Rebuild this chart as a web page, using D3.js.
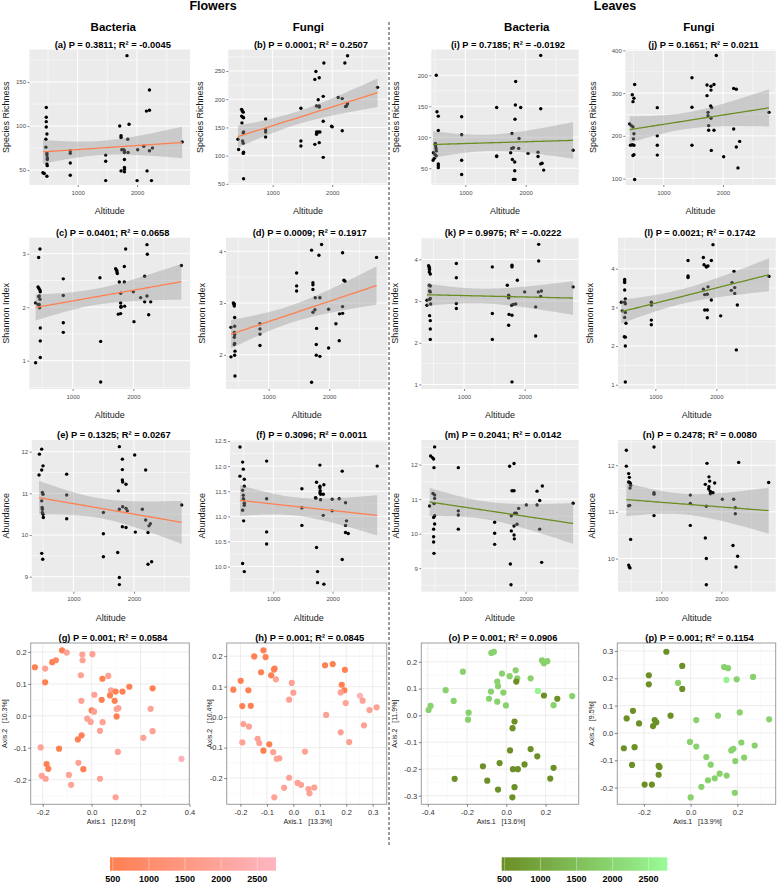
<!DOCTYPE html>
<html><head><meta charset="utf-8">
<script src="https://cdn.jsdelivr.net/npm/d3@7"></script>
<style>
body{margin:0;background:#fff;}
text{font-family:"Liberation Sans",Arial,Helvetica,sans-serif;}
</style></head><body>
<svg id="c" width="777" height="883"></svg>
<script>
// ---------------- DATA ----------------
// [altitude, value]
const richFB = [[416,47],[438,46],[472,121],[472,110],[472,105],[472,99],[483,91],[466,85],[466,76],[483,69],[483,67],[489,64],[489,62],[483,57],[489,55],[483,43],
[876,72],[876,69],[876,58],[876,44],[1472,67],[1472,60],[1472,38],
[1708,100],[1730,89],[1730,87],[1742,73],[1730,49],[1775,73],[1787,72],[1787,70],[1787,62],[1787,53],[1787,51],[1787,48],[1830,180],[1843,85],[1848,70],[1865,102],
[2000,38],[2010,73],[2112,77],[2157,117],[2168,49],[2208,118],[2208,141],[2208,72],[2258,75],[2242,38],[2758,82]];
const richFF = [[419,129],[430,111],[480,182],[491,179],[508,177],[480,170],[502,168],[513,167],[486,158],[513,142],[508,140],[497,126],[508,122],[513,106],[508,104],[513,59],
[883,165],[883,146],[883,142],[883,133],[1475,184],[1475,126],[1475,117],
[1726,249],[1709,235],[1782,238],[1737,188],[1765,199],[1782,188],[1782,186],[1737,142],[1765,142],[1793,142],[1737,138],[1709,120],[1782,123],[1849,205],[1849,161],[1860,264],[1849,97],
[1989,152],[2000,151],[2100,203],[2168,201],[2168,144],[2212,264],[2257,277],[2223,187],[2240,188],[2257,192],[2760,221]];
const shanFB = [[390,2.08],[390,0.96],[440,2.93],[462,3.09],[430,2.38],[445,2.35],[462,2.32],[467,2.29],[440,2.2],[450,2.21],[430,2.05],[450,2.05],[456,1.99],[462,2.15],[467,1.61],[467,1.37],[467,1.06],
[846,2.53],[846,2.22],[846,1.71],[846,1.53],[1450,2.55],[1462,1.36],[1462,0.6],
[1709,2.72],[1725,2.69],[1731,2.66],[1736,2.63],[1753,1.87],[1791,1.88],[1791,2.26],[1791,2.08],[1797,2.02],[1797,2.0],[1769,2.47],[1852,2.47],[1852,2.76],[1874,3.09],[1857,2.02],
[2000,2.29],[2011,1.73],[2121,2.18],[2187,2.58],[2187,2.1],[2225,3.17],[2231,2.99],[2225,2.21],[2253,1.86],[2286,2.1],[2791,2.78]];
const shanFF = [[379,2.53],[379,1.96],[418,3.0],[434,2.98],[434,2.94],[440,2.72],[440,2.55],[434,2.43],[440,2.39],[434,2.34],[440,2.22],[434,2.2],[445,2.07],[440,1.99],[445,1.59],[429,2.97],
[857,2.6],[857,2.5],[857,2.4],[857,2.18],[1462,3.58],[1462,3.33],[1462,3.23],
[1709,4.02],[1709,1.47],[1731,3.39],[1731,3.35],[1731,3.26],[1731,2.82],[1764,2.87],[1769,3.1],[1791,2.51],[1786,2.2],[1786,1.99],[1830,3.92],[1846,3.1],[1846,1.97],[1874,4.13],
[1989,2.13],[1989,2.88],[2110,2.6],[2165,2.27],[2170,2.79],[2220,3.97],[2220,2.8],[2220,2.93],[2242,3.44],[2259,3.42],[2780,3.88]];
const abunFB = [[434,11.44],[440,11.94],[478,12.06],[478,11.56],[500,11.66],[489,11.02],[500,10.98],[478,10.82],[484,10.66],[489,10.62],[489,10.54],[500,10.5],[505,10.42],[478,9.56],[495,9.42],
[890,11.46],[890,10.96],[890,10.39],[1495,10.54],[1495,10.03],[1495,9.48],
[1742,11.06],[1731,9.58],[1758,12.12],[1758,8.98],[1758,8.81],[1758,10.62],[1808,11.82],[1808,11.57],[1808,11.32],[1813,11.27],[1813,10.68],[1808,10.2],[1868,11.22],[1868,10.18],[1868,10.64],[1890,10.58],
[2011,11.92],[2022,10.07],[2137,10.62],[2192,11.56],[2192,10.36],[2231,10.06],[2231,9.3],[2247,10.22],[2269,10.27],[2291,9.36],[2786,10.72]];
const abunFF = [[438,12.38],[438,11.8],[483,12.08],[494,11.94],[511,11.74],[511,11.6],[483,11.52],[494,11.42],[494,11.35],[500,11.33],[511,11.26],[511,11.22],[483,11.12],[500,10.91],[483,10.06],[511,9.9],
[888,12.1],[888,11.35],[888,10.69],[888,10.45],[1483,11.55],[1483,11.17],[1483,10.82],
[1730,11.68],[1713,11.37],[1719,11.36],[1730,10.38],[1747,9.9],[1747,9.68],[1787,12.02],[1787,11.6],[1787,11.57],[1792,11.51],[1787,11.47],[1798,11.44],[1798,11.33],[1854,11.63],[1843,11.44],[1843,11.02],[1854,9.65],
[1994,11.34],[1994,11.11],[2112,11.35],[2163,11.9],[2163,10.14],[2219,11.27],[2219,10.82],[2236,10.91],[2219,10.68],[2264,10.66],[2753,12.0]];
const richLB = [[519,200],[530,141],[552,134],[552,111],[503,90],[508,86],[514,82],[519,78],[470,75],[497,72],[519,70],[486,66],[464,63],[552,57],[552,54],[552,51],
[939,133],[939,104],[939,63],[939,40],[1519,148],[1519,70],[1519,69],
[1773,106],[1768,82],[1751,75],[1779,64],[1796,83],[1818,60],[1834,190],[1829,152],[1823,129],[1818,46],[1823,32],[1796,32],[1884,82],[1890,98],[1917,148],
[2039,74],[2204,76],[2204,69],[2249,232],[2249,146],[2249,57],[2271,58],[2298,47],[2785,79]];
const richLF = [[436,228],[450,178],[480,179],[508,178],[464,224],[492,221],[480,296],[492,280],[508,288],[520,320],[492,154],[508,156],[508,205],[500,193],[520,98],
[899,266],[899,200],[899,178],[899,155],[1480,336],[1480,267],[1480,178],
[1732,319],[1732,294],[1749,255],[1749,247],[1760,224],[1760,213],[1799,316],[1799,307],[1793,270],[1810,266],[1799,241],[1804,166],[1849,320],[1849,213],[1888,388],
[2011,151],[2179,311],[2223,309],[2179,216],[2223,174],[2279,187],[2251,125],[2771,255]];
const shanLB = [[390,3.02],[390,2.9],[418,3.85],[429,3.81],[429,3.77],[429,3.7],[434,3.76],[445,3.65],[429,3.38],[445,3.36],[434,3.24],[445,3.22],[434,3.04],[445,3.06],[451,2.93],[434,2.65],[445,2.53],[445,2.33],[445,2.08],
[874,3.9],[874,3.56],[874,2.94],[874,2.82],[1467,3.82],[1467,2.7],[1467,2.08],
[1714,3.38],[1736,3.14],[1742,3.11],[1736,3.08],[1742,2.68],[1736,2.42],[1791,3.86],[1791,3.82],[1786,2.9],[1791,2.66],[1791,1.06],[1813,2.92],[1852,2.93],[1879,3.5],
[2000,3.22],[2181,2.86],[2181,2.16],[2225,3.22],[2231,3.96],[2231,4.36],[2264,3.11],[2275,3.24],[2797,3.34]];
const shanLF = [[443,3.13],[458,2.91],[497,3.72],[497,3.68],[497,3.64],[497,3.45],[508,3.22],[497,3.13],[508,3.09],[508,2.87],[497,2.74],[519,2.59],[491,2.24],[508,2.23],[508,2.0],[508,1.07],
[934,3.13],[934,3.06],[934,2.67],[934,2.55],[1536,4.21],[1536,3.81],[1536,3.77],
[1787,4.29],[1798,4.1],[1787,3.47],[1809,3.33],[1809,2.93],[1836,4.04],[1836,4.06],[1852,2.93],[1852,3.34],[1852,2.73],[1863,4.07],[1863,3.53],[1918,4.21],[1945,4.62],[1918,3.19],
[2071,2.78],[2257,3.64],[2246,3.44],[2301,3.51],[2301,3.36],[2290,3.93],[2328,1.9],[2344,3.06],[2863,3.8]];
const abunLB = [[409,10.8],[425,12.25],[453,12.2],[475,12.16],[492,12.51],[481,11.91],[464,11.16],[492,11.12],[492,11.02],[481,10.87],[492,10.52],[475,10.47],[492,10.28],[475,10.13],[475,9.91],[475,9.76],[481,9.43],
[884,11.91],[884,10.66],[884,10.54],[884,10.13],[1486,10.33],[1486,10.01],[1486,9.69],
[1735,11.95],[1746,9.12],[1757,8.52],[1762,10.52],[1762,10.08],[1773,11.24],[1807,11.24],[1807,12.03],[1807,10.22],[1807,9.96],[1812,9.85],[1818,10.59],[1845,10.59],[1856,10.27],[1884,10.73],
[2011,10.83],[2188,11.23],[2188,10.83],[2232,10.96],[2232,10.13],[2276,11.38],[2265,9.17],[2785,10.88]];
const abunLF = [[417,12.32],[417,11.98],[456,11.82],[467,11.74],[456,11.64],[472,11.63],[483,11.61],[489,11.57],[478,11.51],[472,11.14],[456,11.13],[489,10.41],[456,9.86],[467,9.82],[478,9.8],
[878,12.39],[878,11.41],[878,11.38],[878,10.92],[1483,11.36],[1483,11.18],[1483,10.71],
[1733,11.59],[1733,10.44],[1750,11.12],[1750,10.0],[1750,9.44],[1761,12.04],[1794,11.75],[1806,11.66],[1794,11.54],[1789,11.49],[1817,11.44],[1817,11.39],[1861,11.41],[1889,11.62],
[2017,11.27],[2194,10.28],[2206,11.27],[2233,11.09],[2233,10.96],[2244,9.82],[2272,10.05],[2289,12.06],[2789,11.63]];

// PCoA: [Axis.1, Axis.2, altitude]
const pcoaFB = [[-0.232,0.152,500],[-0.19,0.105,500],[-0.19,0.148,1900],[-0.161,0.168,500],[-0.146,0.174,900],[-0.121,0.205,500],[-0.102,0.198,1900],[-0.038,0.192,1900],[0.003,0.193,1900],[-0.037,0.174,1900],[-0.044,0.127,1900],[-0.042,0.047,1900],[0.044,0.116,500],[0.068,0.125,1900],[0.011,0.066,1900],[0.079,0.08,1900],[0.075,0.064,500],[0.041,0.05,500],[0.098,0.076,500],[0.126,0.076,500],[0.154,0.091,500],[0.249,0.086,500],[0.094,0.047,500],[0.102,0.021,1900],[0.109,0.024,1900],[0.102,-0.002,500],[0.0,0.017,500],[0.01,0.013,1900],[-0.018,-0.009,1900],[-0.004,-0.019,1900],[0.045,-0.02,1900],[-0.041,-0.061,500],[-0.056,-0.074,500],[0.034,-0.047,1900],[0.241,0.022,1900],[0.249,-0.048,1900],[0.211,-0.069,1900],[0.107,-0.113,1900],[0.367,-0.135,2600],[-0.208,-0.099,1900],[-0.133,-0.103,500],[-0.184,-0.151,500],[-0.177,-0.166,500],[-0.204,-0.188,1900],[-0.188,-0.197,1900],[-0.093,-0.185,1900],[-0.084,-0.216,1900],[-0.054,-0.147,1900],[-0.034,-0.167,500],[0.034,-0.197,1900],[0.098,-0.255,1900]];
const pcoaFF = [[-0.227,0.09,500],[-0.199,0.119,500],[-0.17,0.088,500],[-0.193,0.036,500],[-0.161,0.037,500],[-0.148,0.199,500],[-0.113,0.219,500],[-0.105,0.197,500],[-0.122,0.147,500],[-0.084,0.137,500],[-0.073,0.156,500],[-0.071,0.159,500],[-0.066,0.124,1900],[-0.006,0.112,1900],[0.0,0.08,1900],[-0.016,0.057,1900],[-0.189,-0.023,1900],[-0.168,-0.031,1900],[-0.193,-0.083,1900],[-0.135,-0.071,1900],[-0.129,-0.085,1900],[-0.091,-0.089,500],[-0.113,-0.11,500],[-0.076,-0.115,1900],[-0.053,-0.135,1900],[-0.063,-0.137,1900],[0.044,-0.113,1900],[-0.016,-0.199,1900],[-0.035,-0.232,1900],[-0.072,-0.263,1900],[0.016,-0.216,1900],[0.029,-0.222,1900],[0.057,-0.236,1900],[0.061,-0.25,1900],[0.079,-0.231,1900],[0.12,0.17,500],[0.149,0.174,500],[0.195,0.155,500],[0.183,0.106,500],[0.193,0.088,500],[0.179,0.081,1900],[0.198,0.046,1900],[0.124,0.007,1900],[0.252,0.07,2600],[0.262,0.054,1900],[0.288,0.023,1900],[0.315,0.032,1900],[0.267,-0.027,1900],[0.179,-0.05,1900],[0.211,-0.082,1900]];
const pcoaLB = [[-0.396,0.02,1900],[-0.386,0.035,1900],[-0.309,0.094,1900],[-0.268,0.054,1900],[-0.221,0.163,1900],[-0.192,0.01,1900],[-0.195,-0.016,1900],[-0.076,0.233,1900],[-0.063,0.237,1900],[-0.022,0.156,1900],[0.048,0.168,1900],[0.017,0.146,1900],[0.056,0.138,1900],[-0.046,0.126,1900],[-0.042,0.109,1900],[-0.078,0.089,1900],[-0.015,0.085,1900],[-0.088,0.062,1900],[-0.046,0.051,1900],[-0.002,0.037,1900],[0.124,0.138,1900],[0.182,0.205,1900],[0.192,0.194,1900],[0.209,0.202,1900],[0.161,0.091,2600],[0.241,0.038,1900],[0.336,0.072,1900],
[0.051,0.126,500],[0.192,0.074,500],[0.26,0.062,500],[0.042,-0.023,500],[0.032,-0.048,500],[0.019,-0.131,500],[0.124,-0.126,500],[0.158,-0.153,500],[-0.119,-0.19,500],[-0.034,-0.178,500],[0.093,-0.183,500],[0.034,-0.201,500],[0.059,-0.201,500],[0.241,-0.196,500],[0.224,-0.236,500],[-0.263,-0.237,500],[-0.097,-0.244,500],[0.042,-0.268,500],[-0.042,-0.277,500],[0.031,-0.306,500]];
const pcoaLF = [[-0.104,0.297,500],[-0.179,0.211,500],[-0.179,0.178,500],[-0.036,0.245,500],[-0.036,0.161,500],[-0.086,0.063,500],[-0.247,0.081,500],[-0.274,0.053,500],[-0.221,0.035,500],[-0.154,0.047,500],[-0.147,0.039,500],[-0.161,0.025,500],[-0.286,-0.056,500],[-0.24,-0.052,500],[-0.251,-0.117,500],[-0.197,-0.189,500],[-0.166,-0.189,500],[-0.137,-0.12,500],[-0.133,-0.125,500],[-0.137,-0.153,500],
[-0.054,0.183,1900],[0.143,0.241,1900],[0.16,0.237,1900],[0.153,0.194,2600],[0.197,0.196,1900],[0.267,0.205,1900],[0.024,0.047,1900],[0.117,0.063,1900],[0.21,0.075,1900],[0.336,0.05,1900],[-0.003,-0.033,1900],[0.024,-0.05,1900],[0.067,-0.088,1900],[0.086,-0.116,1900],[0.217,-0.035,1900],[0.274,-0.046,1900],[0.174,-0.064,1900],[0.183,-0.058,1900],[0.229,-0.09,1900],[0.191,-0.103,1900],[0.074,-0.173,1900],[0.124,-0.149,1900],[0.154,-0.156,1900],[0.046,-0.197,1900],[0.103,-0.166,1900],[0.189,-0.219,1900],[0.0,-0.236,1900]];

const scatterLabels = ["(a) P = 0.3811; R² = -0.0045","(b) P = 0.0001; R² = 0.2507","(c) P = 0.0401; R² = 0.0658","(d) P = 0.0009; R² = 0.1917","(e) P = 0.1325; R² = 0.0267","(f) P = 0.3096; R² = 0.0011","(i) P = 0.7185; R² = -0.0192","(j) P = 0.1651; R² = 0.0211","(k) P = 0.9975; R² = -0.0222","(l) P = 0.0021; R² = 0.1742","(m) P = 0.2041; R² = 0.0142","(n) P = 0.2478; R² = 0.0080"];
const pcoaLabels = ["(g) P = 0.001; R² = 0.0584","(h) P = 0.001; R² = 0.0845","(o) P = 0.001; R² = 0.0906","(p) P = 0.001; R² = 0.1154"];
const axis1Labels = ["Axis.1   [12.6%]","Axis.1   [13.3%]","Axis.1   [13.6%]","Axis.1   [13.9%]"];
const axis2Labels = ["Axis.2   [10.3%]","Axis.2   [10.4%]","Axis.2   [11.9%]","Axis.2   [9.5%]"];
const altTicks = [1000, 2000];
const legendTicks = [500, 1000, 1500, 2000, 2500];
const altRange = [460, 2760];

// ---------------- STYLE / LAYOUT ----------------
const FONT = '"Liberation Sans",Arial,Helvetica,sans-serif';
const orange = "#FF7F50", pink = "#FFB6C1", olive = "#6B8E23", pale = "#98FB98";
const rows = [[49.5,185],[237.7,389],[440,591.7],[643,804.3]];
const svg = d3.select("#c");

const scatterPanels = [
 {d:richFB,row:0,x0:29.5,x1:190,xd:[190,2890],yd:[33,187],yt:[50,100,150],ttl:"Species Richness",tx:6,c:orange,lab:0},
 {d:richFF,row:0,x0:228.3,x1:387.5,xd:[257,2927],yd:[48,288],yt:[50,100,150,200,250],ttl:"Species Richness",tx:200,c:orange,lab:1},
 {d:shanFB,row:1,x0:29.3,x1:190,xd:[286,2934],yd:[0.47,3.3],yt:[1,2,3],ttl:"Shannon Index",tx:6,c:orange,lab:2},
 {d:shanFF,row:1,x0:226,x1:387.5,xd:[297,2961],yd:[1.34,4.26],yt:[2,3,4],ttl:"Shannon Index",tx:201.7,c:orange,lab:3},
 {d:abunFB,row:2,x0:31.7,x1:190,xd:[313,2923],yd:[8.64,12.28],yt:[9,10,11,12],ttl:"Abundance",tx:6,c:orange,lab:4},
 {d:abunFF,row:2,x0:230,x1:387.5,xd:[270,2927],yd:[9.5,12.52],yt:[10,10.5,11,11.5,12,12.5],fmt:".1f",ttl:"Abundance",tx:201.7,c:orange,lab:5},
 {d:richLB,row:0,x0:431.3,x1:578.7,xd:[436,2878],yd:[23,241.5],yt:[50,100,150,200],ttl:"Species Richness",tx:396,c:olive,lab:6},
 {d:richLF,row:0,x0:625.3,x1:775.7,xd:[363,2883],yd:[85,402],yt:[100,200,300,400],ttl:"Species Richness",tx:593,c:olive,lab:7},
 {d:shanLB,row:1,x0:421.3,x1:578.7,xd:[297,2890],yd:[0.89,4.52],yt:[1,2,3,4],ttl:"Shannon Index",tx:394.7,c:olive,lab:8},
 {d:shanLF,row:1,x0:618,x1:775.7,xd:[388,2973],yd:[0.89,4.8],yt:[1,2,3,4],ttl:"Shannon Index",tx:589.7,c:olive,lab:9},
 {d:abunLB,row:2,x0:421.3,x1:578.7,xd:[271,2878],yd:[8.32,12.71],yt:[9,10,11,12],ttl:"Abundance",tx:396,c:olive,lab:10},
 {d:abunLF,row:2,x0:618,x1:775.7,xd:[278,2906],yd:[9.29,12.54],yt:[10,11,12],ttl:"Abundance",tx:592,c:olive,lab:11}
];
const pcoaPanels = [
 {d:pcoaFB,x0:30.7,x1:189.3,xd:[-0.249,0.399],yd:[-0.277,0.228],xt:[-0.2,0,0.2,0.4],yt:[-0.2,-0.1,0,0.1,0.2],tx:5,cols:[orange,pink],lab:0},
 {d:pcoaFF,x0:226.7,x1:386.7,xd:[-0.252,0.353],yd:[-0.286,0.243],xt:[-0.2,-0.1,0,0.1,0.2,0.3],yt:[-0.2,-0.1,0,0.1,0.2],tx:209.5,cols:[orange,pink],lab:1},
 {d:pcoaLB,x0:421.3,x1:578.7,xd:[-0.433,0.369],yd:[-0.332,0.27],xt:[-0.4,-0.2,0,0.2],yt:[-0.3,-0.2,-0.1,0,0.1,0.2],tx:394.7,cols:[olive,pale],lab:2},
 {d:pcoaLF,x0:617.3,x1:775.7,xd:[-0.314,0.364],yd:[-0.261,0.329],xt:[-0.2,0,0.2],yt:[-0.2,-0.1,0,0.1,0.2,0.3],tx:592,cols:[olive,pale],lab:3}
];

function minorOf(ticks, dom){
  const s = ticks[1]-ticks[0], out=[];
  for(let v=ticks[0]-s/2; v<=ticks[ticks.length-1]+s/2+1e-9; v+=s){ if(v>dom[0]&&v<dom[1]) out.push(v); }
  return out;
}
function ols(data){
  const n=data.length, mx=d3.mean(data,d=>d[0]), my=d3.mean(data,d=>d[1]);
  let sxx=0,sxy=0; data.forEach(d=>{sxx+=(d[0]-mx)**2; sxy+=(d[0]-mx)*(d[1]-my);});
  const b=sxy/sxx, a=my-b*mx;
  const s=Math.sqrt(d3.sum(data,d=>(d[1]-a-b*d[0])**2)/(n-2));
  const t=2.012;
  const [lo,hi]=d3.extent(data,d=>d[0]);
  return d3.range(0,61).map(i=>{const xv=lo+i*(hi-lo)/60, yh=a+b*xv, se=s*Math.sqrt(1/n+(xv-mx)**2/sxx); return {x:xv,y:yh,lo:yh-t*se,hi:yh+t*se};});
}
function styleAxis(g, size, col){
  g.attr("font-family",FONT).attr("font-size",size);
  g.select(".domain").remove();
  g.selectAll(".tick line").attr("stroke","#333").attr("stroke-width",0.6);
  g.selectAll(".tick text").attr("fill",col);
}
let clipId=0;
function drawScatter(p){
  const [y0,y1]=rows[p.row];
  const x=d3.scaleLinear().domain(p.xd).range([p.x0,p.x1]);
  const y=d3.scaleLinear().domain(p.yd).range([y1,y0]);
  const cid="cl"+(clipId++);
  svg.append("clipPath").attr("id",cid).append("rect").attr("x",p.x0).attr("y",y0).attr("width",p.x1-p.x0).attr("height",y1-y0);
  const g=svg.append("g");
  g.append("rect").attr("x",p.x0).attr("y",y0).attr("width",p.x1-p.x0).attr("height",y1-y0).attr("fill","#EBEBEB");
  const gc=g.append("g").attr("clip-path",`url(#${cid})`);
  gc.selectAll(null).data(minorOf(altTicks,p.xd)).join("line").attr("x1",x).attr("x2",x).attr("y1",y0).attr("y2",y1).attr("stroke","#fff").attr("stroke-width",0.5);
  gc.selectAll(null).data(minorOf(p.yt,p.yd)).join("line").attr("y1",y).attr("y2",y).attr("x1",p.x0).attr("x2",p.x1).attr("stroke","#fff").attr("stroke-width",0.5);
  gc.selectAll(null).data(altTicks).join("line").attr("x1",x).attr("x2",x).attr("y1",y0).attr("y2",y1).attr("stroke","#fff").attr("stroke-width",1);
  gc.selectAll(null).data(p.yt).join("line").attr("y1",y).attr("y2",y).attr("x1",p.x0).attr("x2",p.x1).attr("stroke","#fff").attr("stroke-width",1);
  gc.selectAll(null).data(p.d).join("circle").attr("cx",d=>x(d[0])).attr("cy",d=>y(d[1])).attr("r",1.7).attr("fill","#000");
  const fit=ols(p.d);
  gc.append("path").datum(fit).attr("d",d3.area().x(d=>x(d.x)).y0(d=>y(d.lo)).y1(d=>y(d.hi))).attr("fill","#999").attr("fill-opacity",0.4);
  gc.append("path").datum(fit).attr("d",d3.line().x(d=>x(d.x)).y(d=>y(d.y))).attr("fill","none").attr("stroke",p.c).attr("stroke-width",1.3);
  const ax=g.append("g").attr("transform",`translate(0,${y1})`).call(d3.axisBottom(x).tickValues(altTicks).tickSize(2).tickPadding(3.5).tickFormat(d3.format("d")));
  styleAxis(ax,6,"#4D4D4D");
  const ay=g.append("g").attr("transform",`translate(${p.x0},0)`).call(d3.axisLeft(y).tickValues(p.yt).tickSize(2).tickPadding(1.5).tickFormat(p.fmt?d3.format(p.fmt):d3.format("d")));
  styleAxis(ay,6,"#4D4D4D");
  g.append("text").attr("x",(p.x0+p.x1)/2).attr("y",y1+29).attr("text-anchor","middle").attr("font-size",9).attr("fill","#1a1a1a").text("Altitude");
  g.append("text").attr("transform",`translate(${p.tx},${(y0+y1)/2}) rotate(-90)`).attr("dy","0.35em").attr("text-anchor","middle").attr("font-size",9).attr("fill","#1a1a1a").text(p.ttl);
  g.append("text").attr("x",(p.x0+p.x1)/2+3).attr("y",y0-2).attr("text-anchor","middle").attr("font-size",9.3).attr("font-weight","bold").attr("fill","#000").text(scatterLabels[p.lab]);
}
function drawPcoa(p){
  const [y0,y1]=rows[3];
  const x=d3.scaleLinear().domain(p.xd).range([p.x0,p.x1]);
  const y=d3.scaleLinear().domain(p.yd).range([y1,y0]);
  const col=d3.scaleLinear().domain(altRange).range(p.cols).interpolate(d3.interpolateLab).clamp(true);
  const g=svg.append("g");
  g.append("rect").attr("x",p.x0).attr("y",y0).attr("width",p.x1-p.x0).attr("height",y1-y0).attr("fill","#fff");
  const f=d=>d.toFixed(1);
  g.selectAll(null).data(minorOf(p.xt,p.xd)).join("line").attr("x1",x).attr("x2",x).attr("y1",y0).attr("y2",y1).attr("stroke","#F4F4F4").attr("stroke-width",0.5);
  g.selectAll(null).data(minorOf(p.yt,p.yd)).join("line").attr("y1",y).attr("y2",y).attr("x1",p.x0).attr("x2",p.x1).attr("stroke","#F4F4F4").attr("stroke-width",0.5);
  g.selectAll(null).data(p.xt).join("line").attr("x1",x).attr("x2",x).attr("y1",y0).attr("y2",y1).attr("stroke","#EBEBEB").attr("stroke-width",0.9);
  g.selectAll(null).data(p.yt).join("line").attr("y1",y).attr("y2",y).attr("x1",p.x0).attr("x2",p.x1).attr("stroke","#EBEBEB").attr("stroke-width",0.9);
  g.selectAll(null).data(p.d).join("circle").attr("cx",d=>x(d[0])).attr("cy",d=>y(d[1])).attr("r",3.1).attr("fill",d=>col(d[2]));
  g.append("rect").attr("x",p.x0).attr("y",y0).attr("width",p.x1-p.x0).attr("height",y1-y0).attr("fill","none").attr("stroke","#9E9E9E").attr("stroke-width",1);
  const ax=g.append("g").attr("transform",`translate(0,${y1})`).call(d3.axisBottom(x).tickValues(p.xt).tickSize(2.5).tickPadding(2.5).tickFormat(f));
  styleAxis(ax,7.5,"#333");
  const ay=g.append("g").attr("transform",`translate(${p.x0},0)`).call(d3.axisLeft(y).tickValues(p.yt).tickSize(2.5).tickPadding(1.5).tickFormat(f));
  styleAxis(ay,7.5,"#333");
  g.append("text").attr("x",(p.x0+p.x1)/2+1).attr("y",y1+20).attr("text-anchor","middle").attr("font-size",7).attr("fill","#1a1a1a").style("white-space","pre").text(axis1Labels[p.lab]);
  g.append("text").attr("transform",`translate(${p.tx},${(y0+y1)/2}) rotate(-90)`).attr("dy","0.35em").attr("text-anchor","middle").attr("font-size",7).attr("fill","#1a1a1a").style("white-space","pre").text(axis2Labels[p.lab]);
  g.append("text").attr("x",(p.x0+p.x1)/2+3).attr("y",y0-2).attr("text-anchor","middle").attr("font-size",9.3).attr("font-weight","bold").attr("fill","#000").text(pcoaLabels[p.lab]);
}
svg.attr("font-family",FONT);
scatterPanels.forEach(drawScatter);
pcoaPanels.forEach(drawPcoa);

// headers
const hdr=[["Flowers",213,10,12.5],["Leaves",615,10,12.5],["Bacteria",113.3,31,11.5],["Fungi",308.3,31,11.5],["Bacteria",526.8,31,11.5],["Fungi",698.8,31,11.5]];
svg.selectAll(null).data(hdr).join("text").attr("x",d=>d[1]).attr("y",d=>d[2]).attr("font-size",d=>d[3]).attr("font-weight","bold").attr("text-anchor","middle").attr("fill","#000").text(d=>d[0]);

// divider
svg.append("line").attr("x1",389).attr("x2",389).attr("y1",22).attr("y2",847).attr("stroke","#222").attr("stroke-width",0.9).attr("stroke-dasharray","3,2");

// legends
const defs=svg.append("defs");
function legend(x0,x1,cols,id){
  const c=d3.scaleLinear().domain([0,1]).range(cols).interpolate(d3.interpolateLab);
  const gr=defs.append("linearGradient").attr("id",id);
  d3.range(0,11).forEach(i=>gr.append("stop").attr("offset",i/10).attr("stop-color",c(i/10)));
  const s=d3.scaleLinear().domain(altRange).range([x0,x1]);
  svg.append("rect").attr("x",x0).attr("y",857.3).attr("width",x1-x0).attr("height",13.4).attr("fill",`url(#${id})`);
  svg.selectAll(null).data(legendTicks).join("line").attr("x1",s).attr("x2",s).attr("y1",857.3).attr("y2",870.7).attr("stroke","#fff").attr("stroke-opacity",0.6).attr("stroke-width",0.6);
  svg.selectAll(null).data(legendTicks).join("text").attr("x",s).attr("y",882).attr("text-anchor","middle").attr("font-size",9).attr("font-weight","bold").attr("fill","#000").text(d=>d);
}
legend(110,276,[orange,pink],"gO");
legend(501.7,667.3,[olive,pale],"gG");
</script></body></html>
